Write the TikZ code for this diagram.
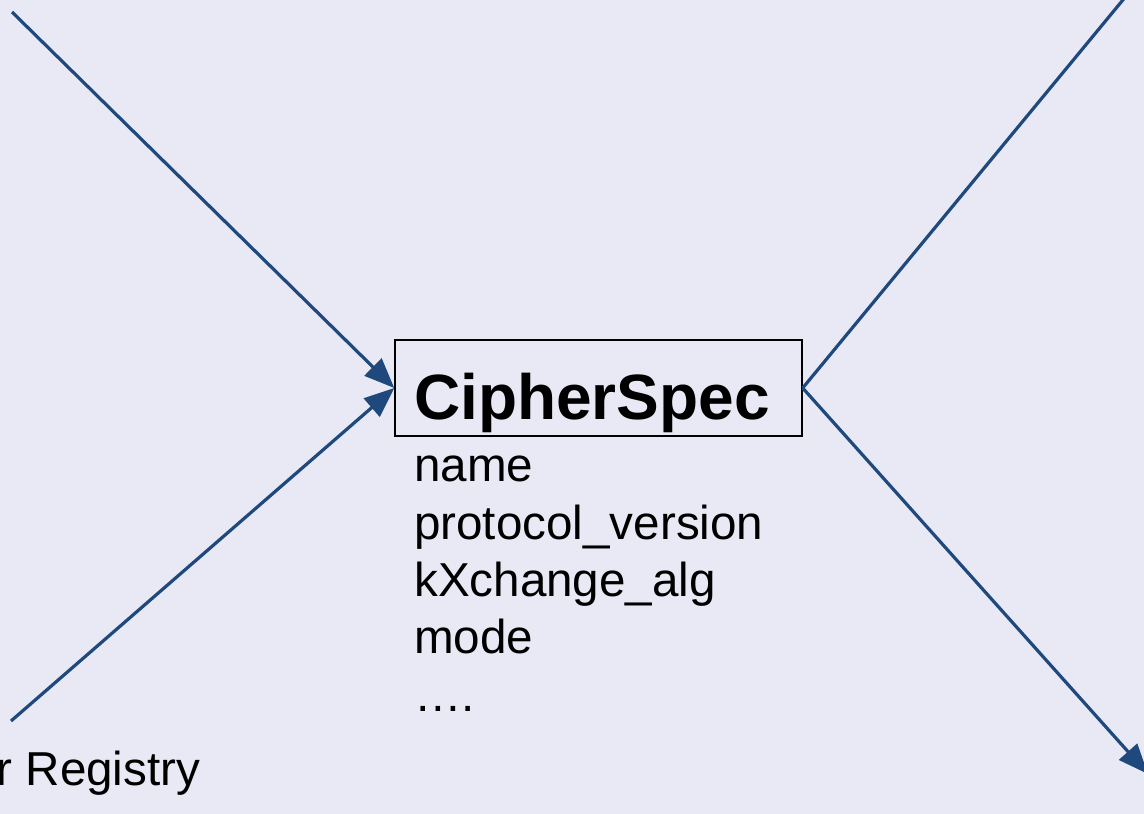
\documentclass[tikz,border=0pt]{standalone}
\usepackage{fontspec}
\setmainfont{Liberation Sans}
\usetikzlibrary{arrows.meta}
\definecolor{bgc}{RGB}{233,233,245}
\definecolor{linec}{RGB}{31,73,125}
\tikzset{
  conn/.style={draw=linec, line width=3.2pt},
  arr/.style={conn, -{Triangle[length=30pt,width=24pt]}},
  attr/.style={anchor=base west, inner sep=0pt, font=\fontsize{47.6}{57}\selectfont},
}
\begin{document}
\begin{tikzpicture}[x=1pt,y=-1pt]
\fill[bgc] (0,0) rectangle (1144,814);
\useasboundingbox (0,0) rectangle (1144,814);
\node[draw=black, line width=1.4pt, minimum width=407pt, minimum height=96pt, inner sep=0pt] (box) at (598.5,388) {};
\node[anchor=base west, inner sep=0pt, font=\fontsize{64}{64}\selectfont\bfseries] (title) at (414,419) {CipherSpec};
\node[attr] (a1) at (414,481) {name};
\node[attr] (a2) at (414,539) {protocol\_version};
\node[attr] (a3) at (414,596) {kXchange\_alg};
\node[attr] (a4) at (414,653) {mode};
\node[attr] (a5) at (414,711) {….};
\node[attr] (reg) at (-3.6,785) {r Registry};
\coordinate (tl) at (12,12);
\coordinate (bl) at (11,721);
\coordinate (tr) at (1141,-22);
\coordinate (br) at (1148,774);
\draw[arr] (tl) -- (box.west);
\draw[arr] (bl) -- (box.west);
\draw[conn] (box.east) -- (tr);
\draw[arr] (box.east) -- (br);
\end{tikzpicture}
\end{document}
